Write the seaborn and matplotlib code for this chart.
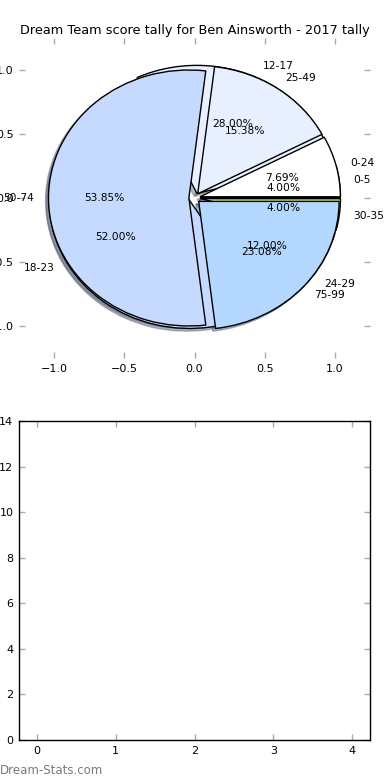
import matplotlib
matplotlib.use('Agg')
import matplotlib.pyplot as plt
import seaborn as sns

# Данные
title = 'Dream Team score tally for Ben Ainsworth - 2017 tally'
labels_25 = ['0-5', '12-17', '18-23', '24-29', '30-35']
counts_25 = [1, 7, 13, 3, 1]
labels_13 = ['0-24', '25-49', '50-74', '75-99']
counts_13 = [1, 2, 7, 3]
colors = ['#ffffff', '#e8f0ff', '#c6d9ff', '#b4d7ff', '#d4ee6a']
pie_ticks = [-1.0, -0.5, 0.0, 0.5, 1.0]
bar_xticks = [0, 1, 2, 3, 4]
bar_yticks = [0, 2, 4, 6, 8, 10, 12, 14]

sns.set_theme(style='white', rc={'axes.edgecolor': 'black', 'axes.linewidth': 1.0,
                                 'text.color': 'black', 'xtick.color': 'black',
                                 'ytick.color': 'black'})
plt.rcParams['font.family'] = ['DejaVu Sans']

fig = plt.figure(figsize=(3.9, 7.8), dpi=100)
ax1 = fig.add_axes([19 / 390, 1 - 358 / 780, 351 / 390, 320 / 780])
ax2 = fig.add_axes([19 / 390, 1 - 740 / 780, 351 / 390, 319 / 780])

# Два пирога друг на друге
wp = {'linewidth': 1, 'edgecolor': 'black'}
tp = {'fontsize': 7.7, 'color': 'black'}
sh = {'ox': -0.015, 'oy': -0.015, 'shade': 0.5}
ax1.pie(counts_25, labels=labels_25, colors=colors[:5], explode=[0.04] * 5,
        autopct='%.2f%%', shadow=sh, wedgeprops=wp, textprops=tp)
ax1.pie(counts_13, labels=labels_13, colors=colors[:4], explode=[0.04] * 4,
        autopct='%.2f%%', shadow=sh, wedgeprops=wp, textprops=tp)
ax1.set_aspect('auto')
ax1.set_xlim(-1.25, 1.25)
ax1.set_ylim(-1.25, 1.25)
ax1.set_xticks(pie_ticks)
ax1.set_yticks(pie_ticks)
ax1.set_frame_on(False)
ax1.set_title(title, fontsize=9.3, pad=3, color='black')

# Пустой нижний график
ax2.set_xlim(-0.225, 4.225)
ax2.set_ylim(0, 14)
ax2.set_xticks(bar_xticks)
ax2.set_yticks(bar_yticks)

for ax in (ax1, ax2):
    ax.tick_params(direction='in', top=True, right=True, bottom=True, left=True,
                   color='#aaaaaa', labelcolor='black', length=4, width=1,
                   labelsize=8, pad=4)

fig.text(0.0, 1 - 770 / 780, 'Dream-Stats.com', color='#7a7a7a', fontsize=8.5,
         va='center', ha='left')

plt.savefig('out.png', dpi=100)
